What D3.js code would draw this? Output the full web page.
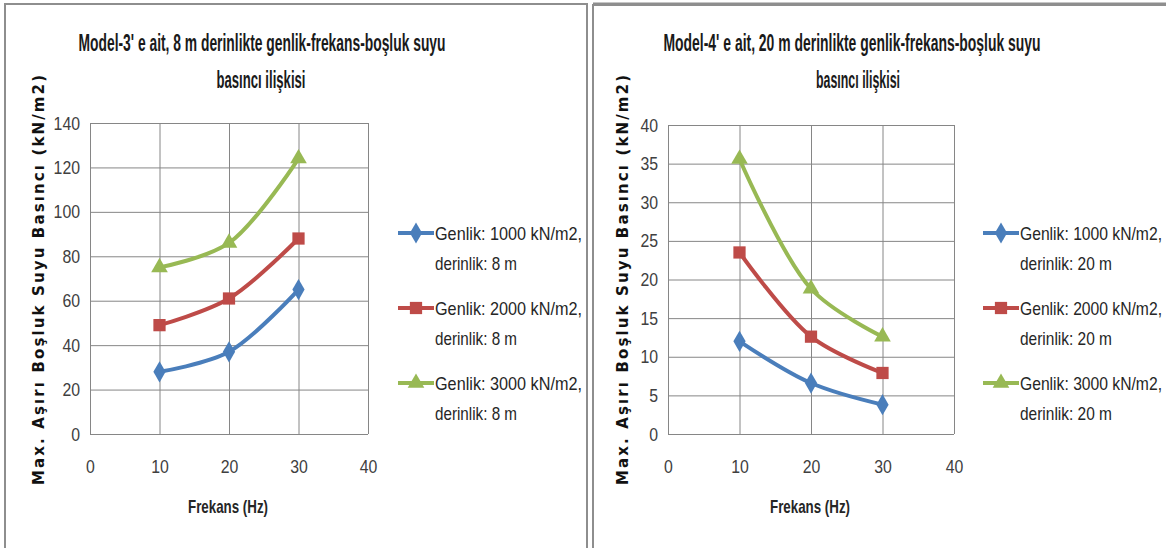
<!DOCTYPE html>
<html>
<head>
<meta charset="utf-8">
<script src="https://cdn.jsdelivr.net/npm/d3@7"></script>
<style>
  body { margin: 0; background: #fff; }
  svg { display: block; }
</style>
</head>
<body>
<svg id="chart" width="1166" height="548"></svg>
<script>
// --- Data ---
const freqs = [10, 20, 30];
const xTicks = [0, 10, 20, 30, 40];

const model3Amp1000 = [28, 37, 65];
const model3Amp2000 = [49, 61, 88];
const model3Amp3000 = [75, 86, 124];
const model3Ticks = [0, 20, 40, 60, 80, 100, 120, 140];

const model4Amp1000 = [12, 6.6, 3.8];
const model4Amp2000 = [23.5, 12.6, 7.9];
const model4Amp3000 = [35.6, 18.8, 12.6];
const model4Ticks = [0, 5, 10, 15, 20, 25, 30, 35, 40];

const seriesLabels = ["Genlik: 1000 kN/m2,", "Genlik: 2000 kN/m2,", "Genlik: 3000 kN/m2,"];
const model3Depth = "derinlik: 8 m";
const model4Depth = "derinlik: 20 m";
const model3Title = ["Model-3' e ait, 8 m derinlikte genlik-frekans-boşluk suyu", "basıncı ilişkisi"];
const model4Title = ["Model-4' e ait, 20 m derinlikte genlik-frekans-boşluk suyu", "basıncı ilişkisi"];
const yTitle = "Max.  Aşırı  Boşluk  Suyu  Basıncı  (kN/m2)";
const xTitle = "Frekans (Hz)";

const colors = ["#4a7ebb", "#be4b48", "#98b954"];
const shapes = [d3.symbolDiamond, d3.symbolSquare, d3.symbolTriangle];
const shapeSizes = [130, 150, 120];

const FONT = "'Liberation Sans', 'DejaVu Sans Condensed', sans-serif";

const svg = d3.select("#chart");

// --- Panel frames ---
svg.append("rect")
  .attr("x", 5).attr("y", 4)
  .attr("width", 582).attr("height", 560)
  .attr("fill", "none").attr("stroke", "#8e8e8e").attr("stroke-width", 2);

svg.append("rect")
  .attr("x", 593).attr("y", 5)
  .attr("width", 600).attr("height", 560)
  .attr("fill", "none").attr("stroke", "#8e8e8e").attr("stroke-width", 2);
svg.append("line")
  .attr("x1", 593).attr("x2", 1166).attr("y1", 4).attr("y2", 4)
  .attr("stroke", "#8e8e8e").attr("stroke-width", 3);

// squeeze text into a measured width (Calibri-like narrow look)
function fit(sel, len) {
  sel.attr("textLength", len).attr("lengthAdjust", "spacingAndGlyphs");
}

function drawPanel(cfg) {
  const x = d3.scaleLinear().domain([0, 40]).range([cfg.left, cfg.right]);
  const y = d3.scaleLinear().domain([0, cfg.yMax]).range([cfg.bottom, cfg.top]);
  const g = svg.append("g");

  // --- Title ---
  g.append("text")
    .attr("x", cfg.titleX).attr("y", 51)
    .attr("text-anchor", "middle")
    .attr("font-family", FONT).attr("font-size", 23).attr("font-weight", "bold")
    .attr("fill", "#1a1a1a")
    .call(fit, cfg.titleLen)
    .text(cfg.title[0]);
  g.append("text")
    .attr("x", cfg.title2X).attr("y", 88)
    .attr("text-anchor", "middle")
    .attr("font-family", FONT).attr("font-size", 23).attr("font-weight", "bold")
    .attr("fill", "#1a1a1a")
    .call(fit, cfg.title2Len)
    .text(cfg.title[1]);

  // --- Gridlines ---
  g.append("g")
    .attr("transform", `translate(${cfg.left},0)`)
    .call(d3.axisLeft(y).tickValues(cfg.yTicks).tickSize(-(cfg.right - cfg.left)).tickFormat(""))
    .call(a => a.select(".domain").remove())
    .selectAll("line").attr("stroke", "#868686").attr("stroke-width", 1);

  g.append("g")
    .attr("transform", `translate(0,${cfg.bottom})`)
    .call(d3.axisBottom(x).tickValues(xTicks).tickSize(-(cfg.bottom - cfg.top)).tickFormat(""))
    .call(a => a.select(".domain").remove())
    .selectAll("line").attr("stroke", "#868686").attr("stroke-width", 1);

  // --- Tick labels ---
  g.append("g")
    .attr("transform", `translate(${cfg.left - 10},0)`)
    .call(d3.axisLeft(y).tickValues(cfg.yTicks).tickSize(0).tickPadding(0))
    .call(a => a.select(".domain").remove())
    .selectAll("text")
    .attr("font-family", FONT).attr("font-size", 19).attr("fill", "#404040")
    .each(function (d) { fit(d3.select(this), String(d).length * 8.8); });

  g.append("g")
    .attr("transform", `translate(0,${cfg.bottom + 25})`)
    .call(d3.axisBottom(x).tickValues(xTicks).tickSize(0).tickPadding(0))
    .call(a => a.select(".domain").remove())
    .selectAll("text")
    .attr("font-family", FONT).attr("font-size", 19).attr("fill", "#404040")
    .each(function (d) { fit(d3.select(this), String(d).length * 8.8); });

  // --- Axis titles ---
  g.append("text")
    .attr("x", (cfg.left + cfg.right) / 2 - 1).attr("y", 513)
    .attr("text-anchor", "middle")
    .attr("font-family", FONT).attr("font-size", 19).attr("font-weight", "bold")
    .attr("fill", "#262626")
    .call(fit, 80)
    .text(xTitle);

  g.append("text")
    .attr("transform", `translate(${cfg.yTitleX},280) rotate(-90)`)
    .attr("text-anchor", "middle")
    .attr("font-family", "'DejaVu Sans', sans-serif").attr("font-size", 15).attr("font-weight", "bold")
    .attr("fill", "#111")
    .attr("textLength", 410).attr("lengthAdjust", "spacing")
    .text(yTitle);

  // --- Lines + markers ---
  const line = d3.line()
    .x((d, i) => x(freqs[i]))
    .y(d => y(d))
    .curve(d3.curveCatmullRom.alpha(0.5));

  cfg.series.forEach((values, s) => {
    g.append("path")
      .datum(values)
      .attr("fill", "none")
      .attr("stroke", colors[s])
      .attr("stroke-width", 4)
      .attr("stroke-linejoin", "round")
      .attr("d", line);

    g.selectAll(null)
      .data(values)
      .join("path")
      .attr("transform", (d, i) => `translate(${x(freqs[i])},${y(d)})`)
      .attr("d", d3.symbol(shapes[s], shapeSizes[s]))
      .attr("fill", colors[s]);
  });

  // --- Legend ---
  const legend = g.append("g")
    .attr("transform", `translate(${cfg.legendX},0)`);

  const items = legend.selectAll("g")
    .data(seriesLabels)
    .join("g")
    .attr("transform", (d, i) => `translate(0,${233 + i * 75})`);

  items.append("line")
    .attr("x1", 0).attr("x2", 36)
    .attr("stroke", (d, i) => colors[i])
    .attr("stroke-width", 4);

  items.append("path")
    .attr("transform", "translate(18,0)")
    .attr("d", (d, i) => d3.symbol(shapes[i], shapeSizes[i])())
    .attr("fill", (d, i) => colors[i]);

  items.append("text")
    .attr("x", 37).attr("y", 7)
    .attr("font-family", FONT).attr("font-size", 19)
    .attr("fill", "#262626")
    .call(fit, cfg.labelLen)
    .text(d => d);

  items.append("text")
    .attr("x", 37).attr("y", 37)
    .attr("font-family", FONT).attr("font-size", 19)
    .attr("fill", "#262626")
    .call(fit, cfg.depthLen)
    .text(cfg.depth);
}

drawPanel({
  left: 90, right: 368, top: 123, bottom: 434,
  yMax: 140, yTicks: model3Ticks,
  series: [model3Amp1000, model3Amp2000, model3Amp3000],
  title: model3Title, titleX: 262, titleLen: 367, title2X: 261, title2Len: 89,
  yTitleX: 44, legendX: 398, depth: model3Depth, depthLen: 82, labelLen: 147
});

drawPanel({
  left: 668, right: 954, top: 125, bottom: 434,
  yMax: 40, yTicks: model4Ticks,
  series: [model4Amp1000, model4Amp2000, model4Amp3000],
  title: model4Title, titleX: 852, titleLen: 377, title2X: 858, title2Len: 84,
  yTitleX: 628, legendX: 983, depth: model4Depth, depthLen: 92, labelLen: 142
});
</script>
</body>
</html>
